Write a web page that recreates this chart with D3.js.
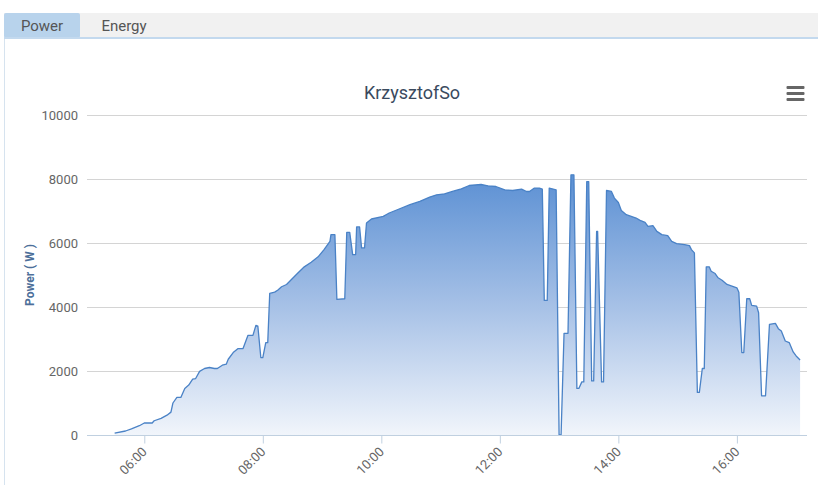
<!DOCTYPE html>
<html>
<head>
<meta charset="utf-8">
<script src="https://cdn.jsdelivr.net/npm/d3@7"></script>
<style>
  html, body { margin: 0; padding: 0; background: #ffffff; }
  svg { display: block; font-family: Roboto, "Noto Sans", sans-serif; }
</style>
</head>
<body>
<svg id="chart" width="818" height="485"></svg>
<script>
// ---- data ----
const tabs = ["Power", "Energy"];
const chartTitle = "KrzysztofSo";
const yAxisTitle = "Power ( W )";
const yTicks = [0, 2000, 4000, 6000, 8000, 10000];
const xTickLabels = ["06:00", "08:00", "10:00", "12:00", "14:00", "16:00"];
const xDomain = ["05:02", "17:11"];
const times = [
  "05:30","05:41","05:47","05:55","06:00","06:08","06:10","06:17","06:23","06:27",
  "06:29","06:33","06:37","06:41","06:45","06:49","06:52","06:56","07:01","07:06",
  "07:11","07:14","07:19","07:23","07:25","07:30","07:35","07:40","07:45","07:50",
  "07:53","07:55","07:58","08:00","08:03","08:05","08:07","08:12","08:15","08:19",
  "08:24","08:29","08:35","08:42","08:49","08:56","09:02","09:08","09:09","09:13",
  "09:15","09:23","09:25","09:28","09:31","09:34","09:35","09:38","09:40","09:43",
  "09:45","09:50","10:02","10:08","10:18","10:29","10:39","10:49","10:56","11:04",
  "11:12","11:21","11:29","11:41","11:48","11:56","12:05","12:13","12:22","12:27",
  "12:30","12:35","12:40","12:43","12:45","12:48","12:50","12:54","12:57","13:00",
  "13:02","13:05","13:09","13:12","13:15","13:18","13:20","13:23","13:25","13:28",
  "13:30","13:33","13:35","13:38","13:39","13:43","13:45","13:48","13:53","13:56",
  "14:00","14:03","14:08","14:13","14:18","14:22","14:27","14:30","14:35","14:39",
  "14:44","14:50","14:54","14:59","15:07","15:12","15:14","15:17","15:20","15:22",
  "15:25","15:27","15:29","15:32","15:34","15:38","15:41","15:45","15:50","15:55",
  "16:00","16:02","16:05","16:07","16:10","16:13","16:15","16:20","16:22","16:25",
  "16:29","16:33","16:39","16:42","16:45","16:49","16:53","16:57","17:00","17:04"
];
const power = [
  60,125,190,290,375,375,445,520,620,715,
  1000,1175,1175,1455,1560,1745,1765,1990,2078,2109,
  2078,2078,2180,2212,2367,2576,2701,2701,3115,3115,
  3427,3400,2420,2420,2886,2886,4423,4464,4526,4632,
  4704,4859,5046,5255,5398,5567,5794,6052,6261,6261,
  4236,4258,6333,6333,5638,5638,6501,6501,5847,5847,
  6626,6750,6831,6937,7062,7196,7298,7435,7507,7538,
  7610,7694,7797,7828,7787,7766,7663,7641,7685,7610,
  7610,7716,7716,7685,4205,4205,7716,7685,7663,0,
  0,3177,3177,8130,8130,1455,1455,1660,1660,7921,
  7921,1691,1691,6364,6364,1660,1660,7641,7610,7404,
  7267,7018,6884,6831,6781,6707,6644,6520,6542,6364,
  6261,6230,6052,5981,5950,5919,5794,5691,1330,1330,
  2078,2078,5255,5255,5118,5046,4912,4838,4704,4651,
  4601,4464,2576,2576,4258,4258,4050,4028,3822,1224,
  1224,3458,3489,3324,3249,2937,2888,2595,2470,2346
];

// ---- helpers ----
const parseT = d3.timeParse("%H:%M");
const data = times.map((t, i) => ({ t: parseT(t), v: power[i] }));

const svg = d3.select("#chart");
const W = 818, H = 485;

// ---- tab bar / panel frame ----
svg.append("rect").attr("x", 4).attr("y", 13).attr("width", W - 4).attr("height", 25).attr("fill", "#f1f1f1");
svg.append("rect").attr("x", 4).attr("y", 13).attr("width", 76).attr("height", 25).attr("fill", "#b8d3ec").attr("rx", 2);
svg.append("rect").attr("x", 4).attr("y", 37).attr("width", W - 4).attr("height", 2).attr("fill", "#c3d9ee");
svg.append("rect").attr("x", 4).attr("y", 39).attr("width", 1).attr("height", H - 39).attr("fill", "#d6e3ef");
const tabX = [42, 124];
tabs.forEach((t, i) => {
  svg.append("text").attr("x", tabX[i]).attr("y", 31).attr("text-anchor", "middle")
    .attr("font-size", 15).attr("fill", "#555").text(t);
});

// ---- plot geometry ----
const m = { left: 87, right: 807, top: 115, bottom: 435 };
const x = d3.scaleTime().domain(xDomain.map(parseT)).range([m.left, m.right]);
const y = d3.scaleLinear().domain([0, 10000]).range([m.bottom, m.top]);

// title
svg.append("text").attr("x", 412).attr("y", 99).attr("text-anchor", "middle")
  .attr("font-size", 18).attr("fill", "#3a4a5e").text(chartTitle);

// menu icon
[87.5, 93.5, 99.5].forEach(yy => {
  svg.append("rect").attr("x", 786.5).attr("y", yy - 1.5).attr("width", 18).attr("height", 3)
    .attr("fill", "#666").attr("rx", 1);
});

// gridlines
const grid = svg.append("g");
yTicks.forEach(v => {
  grid.append("line").attr("x1", m.left).attr("x2", m.right)
    .attr("y1", Math.round(y(v)) + 0.5).attr("y2", Math.round(y(v)) + 0.5)
    .attr("stroke", v === 0 ? "#c0d0e0" : "#d4d4d4").attr("stroke-width", 1);
});

// y axis labels
const yAxis = d3.axisLeft(y).tickValues(yTicks).tickSize(0).tickPadding(0).tickFormat(d3.format("d"));
const yg = svg.append("g").attr("transform", `translate(${m.left - 9},0)`).call(yAxis);
yg.select(".domain").remove();
yg.selectAll("text").attr("font-size", 13).attr("fill", "#666").attr("font-family", "Roboto, sans-serif").attr("dy", "0.35em");

// y axis title
svg.append("text").attr("transform", `translate(34,${(m.top + m.bottom) / 2}) rotate(-90)`)
  .attr("text-anchor", "middle").attr("font-size", 12).attr("font-weight", "bold")
  .attr("fill", "#4d6f9a").text(yAxisTitle);

// gradient
const defs = svg.append("defs");
const grad = defs.append("linearGradient").attr("id", "areaGrad")
  .attr("gradientUnits", "userSpaceOnUse").attr("x1", 0).attr("x2", 0)
  .attr("y1", y(8200)).attr("y2", y(0));
grad.append("stop").attr("offset", "0%").attr("stop-color", "#5a8fd3");
grad.append("stop").attr("offset", "50%").attr("stop-color", "#a5c0e6");
grad.append("stop").attr("offset", "100%").attr("stop-color", "#f1f5fb");

// area + line
const area = d3.area().x(d => x(d.t)).y0(y(0)).y1(d => y(d.v));
const line = d3.line().x(d => x(d.t)).y(d => y(d.v));
svg.append("path").datum(data).attr("d", area).attr("fill", "url(#areaGrad)");
svg.append("path").datum(data).attr("d", line).attr("fill", "none")
  .attr("stroke", "#4a82c6").attr("stroke-width", 1.3).attr("stroke-linejoin", "round");

// x axis
const xAxis = d3.axisBottom(x).tickValues(xTickLabels.map(parseT)).tickSize(8).tickFormat(d3.timeFormat("%H:%M"));
const xg = svg.append("g").attr("transform", `translate(0,${m.bottom + 0.5})`).call(xAxis);
xg.select(".domain").attr("stroke", "#c0d0e0").attr("d", `M${m.left},0H${m.right}`);
xg.selectAll(".tick line").attr("stroke", "#c0d0e0");
xg.selectAll("text").attr("font-size", 13).attr("fill", "#666").attr("font-family", "Roboto, sans-serif")
  .attr("text-anchor", "end").attr("dy", 0).attr("y", 0)
  .attr("transform", "translate(3,17) rotate(-45)");
</script>
</body>
</html>
